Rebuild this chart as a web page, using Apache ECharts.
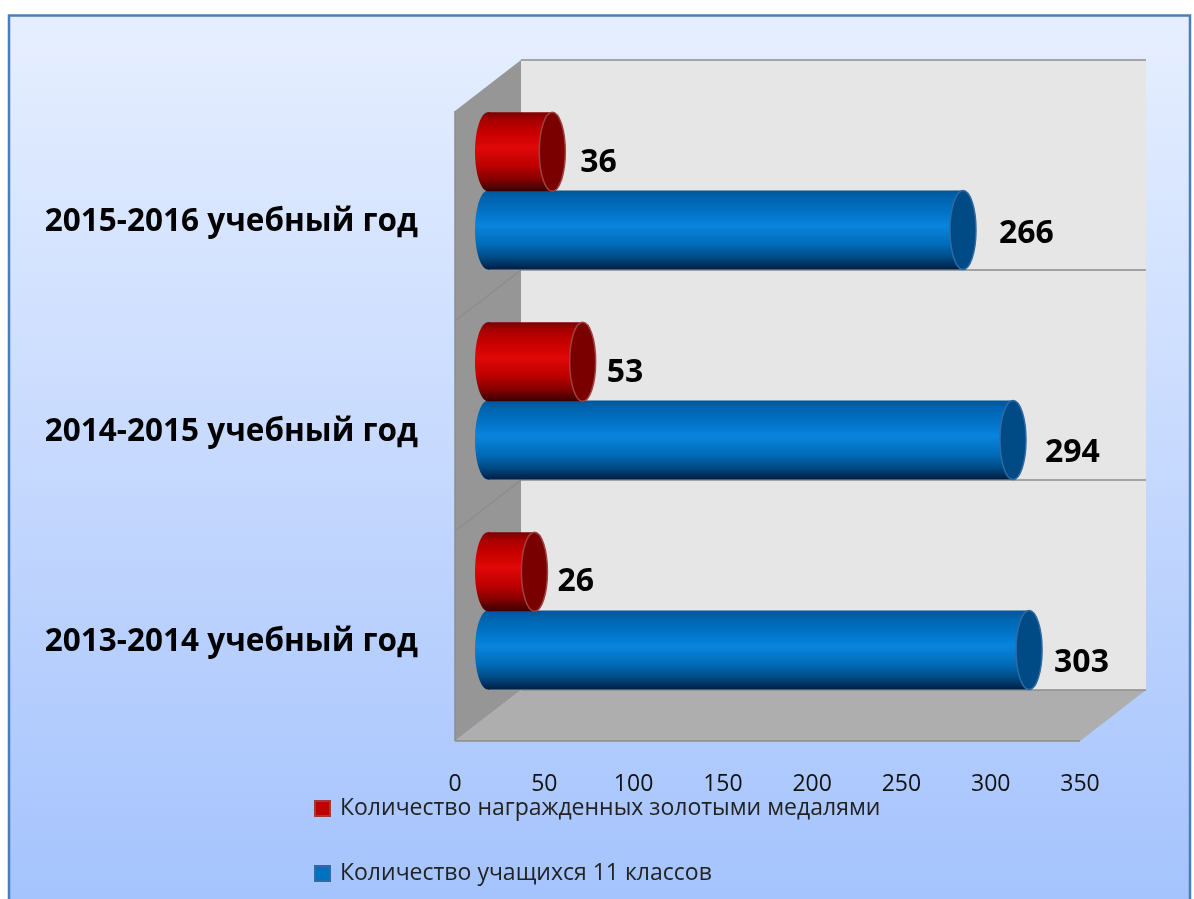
<!DOCTYPE html>
<html><head><meta charset="utf-8">
<style>html,body{margin:0;padding:0;background:#fff;overflow:hidden}#c{width:1194px;height:899px}</style>
<script src="https://cdn.jsdelivr.net/npm/echarts@6/dist/echarts.min.js"></script>
</head><body><div id="c"></div>
<script>
const categories = ['2013-2014 учебный год','2014-2015 учебный год','2015-2016 учебный год'];
const students = [303,294,266];
const medalists = [26,53,36];
const studentsName = 'Количество учащихся 11 классов';
const medalistsName = 'Количество награжденных золотыми медалями';
const xTicks = {min:0,max:350,interval:50};

// layout of the pseudo-3D box
const DEPTH = [66,-51];
const BAR_H = 79, CAP_RX = 13;
const studentNudge = [[1,2],[8,2],[12,-7]];
const medalNudge = [[-1,-1],[0,0],[4,0]];
const FONT = '"Open Sans","Noto Sans",sans-serif';

function grad(stops){return {type:'linear',x:0,y:0,x2:0,y2:1,colorStops:stops.map(s=>({offset:s[0],color:s[1]}))};}
const redGrad = grad([[0,'#7a0000'],[0.1,'#a80000'],[0.28,'#cc0000'],[0.45,'#e00808'],[0.68,'#bc0000'],[0.85,'#840000'],[1,'#380000']]);
const blueGrad = grad([[0,'#00559a'],[0.1,'#0064ae'],[0.28,'#0074c8'],[0.45,'#0a84de'],[0.68,'#006cb8'],[0.85,'#004a85'],[1,'#001f45']]);

function cylinder(opts){
  return function(params,api){
    const x = api.value(0), c = api.value(1);
    const p0 = api.coord([0,c]), p1 = api.coord([x,c]);
    const cy = p0[1] + DEPTH[1]/2 + opts.side*BAR_H/2;
    const x0 = p0[0]+DEPTH[0]/2, x1 = p1[0]+DEPTH[0]/2;
    const ry = BAR_H/2;
    const n = opts.nudge[params.dataIndex];
    return {type:'group',children:[
      {type:'ellipse',shape:{cx:x0,cy:cy,rx:CAP_RX,ry:ry},style:{fill:opts.fill}},
      {type:'rect',shape:{x:x0,y:cy-ry,width:x1-x0,height:BAR_H},style:{fill:opts.fill}},
      {type:'ellipse',shape:{cx:x1,cy:cy,rx:CAP_RX,ry:ry},style:{fill:opts.cap,stroke:opts.capStroke,lineWidth:1.5}},
      {type:'text',x:x1+24+n[0],y:cy+11+n[1],style:{text:String(x),fill:'#000',font:'bold 32px '+FONT,textAlign:'left',textVerticalAlign:'middle'}}
    ]};
  };
}

function walls(params,api){
  const s = params.coordSys, L=s.x, T=s.y, W=s.width, H=s.height, dx=DEPTH[0], dy=DEPTH[1];
  const edge={stroke:'#8c8c8c',lineWidth:1.5};
  const kids=[
    {type:'polygon',shape:{points:[[L+dx,T+dy],[L+W+dx,T+dy],[L+W+dx,T+H+dy],[L+dx,T+H+dy]]},style:{fill:'#e6e6e6'}},
    {type:'polygon',shape:{points:[[L,T],[L+dx,T+dy],[L+dx,T+H+dy],[L,T+H]]},style:{fill:'#969696'}},
    {type:'polygon',shape:{points:[[L,T+H],[L+dx,T+H+dy],[L+W+dx,T+H+dy],[L+W,T+H]]},style:{fill:'#aeaeae'}},
    {type:'line',shape:{x1:L+dx,y1:T+dy,x2:L+W+dx,y2:T+dy},style:edge},
    {type:'line',shape:{x1:L,y1:T+H,x2:L+W,y2:T+H},style:edge},
    {type:'line',shape:{x1:L,y1:T,x2:L,y2:T+H},style:edge}
  ];
  for(let i=1;i<=categories.length;i++){
    const y=T+i*H/categories.length;
    if(i<categories.length) kids.push({type:'line',shape:{x1:L,y1:y,x2:L+dx,y2:y+dy},style:edge});
    kids.push({type:'line',shape:{x1:L+dx,y1:y+dy,x2:L+W+dx,y2:y+dy},style:edge});
  }
  return {type:'group',silent:true,children:kids};
}

const chart = echarts.init(document.getElementById('c'),null,{renderer:'canvas'});
chart.setOption({
  animation:false,
  backgroundColor:'#ffffff',
  graphic:[{type:'rect',z:-10,shape:{x:9,y:15.5,width:1181,height:900},
    style:{fill:{type:'linear',x:0,y:0,x2:0,y2:1,colorStops:[{offset:0,color:'#e6efff'},{offset:0.5,color:'#c6d9fe'},{offset:1,color:'#a3c2fd'}]},stroke:'#4a7ebb',lineWidth:2.5}}],
  grid:{left:455,top:111,width:625,height:630,containLabel:false},
  xAxis:{type:'value',min:xTicks.min,max:xTicks.max,interval:xTicks.interval,
    axisLine:{show:false},axisTick:{show:false},splitLine:{show:false},
    axisLabel:{color:'#111',fontFamily:FONT,fontSize:23,margin:32,hideOverlap:false}},
  yAxis:{type:'category',data:categories,
    axisLine:{show:false},axisTick:{show:false},splitLine:{show:false},
    axisLabel:{color:'#000',fontFamily:FONT,fontWeight:'bold',fontSize:31.5,margin:37,verticalAlign:'top',lineHeight:12}},
  legend:{left:314,top:797,padding:0,orient:'vertical',itemGap:42,itemWidth:15,itemHeight:15,icon:'rect',
    data:[medalistsName,studentsName],
    textStyle:{color:'#222',fontFamily:FONT,fontSize:23,padding:[0,0,0,5]}},
  series:[
    {type:'custom',name:'walls',renderItem:walls,data:[[0,0]],clip:false,silent:true,z:1,encode:{x:0,y:1}},
    {type:'custom',name:studentsName,clip:false,z:2,encode:{x:0,y:1},
      itemStyle:{color:'#0070c0',borderColor:'#2f6aa5',borderWidth:1.5},
      renderItem:cylinder({side:1,fill:blueGrad,cap:'#004a85',capStroke:'#2f6aa5',nudge:studentNudge}),
      data:students.map((v,i)=>[v,i])},
    {type:'custom',name:medalistsName,clip:false,z:3,encode:{x:0,y:1},
      itemStyle:{color:'#c00000',borderColor:'#a03a3a',borderWidth:1.5},
      renderItem:cylinder({side:-0.98,fill:redGrad,cap:'#7a0000',capStroke:'#a04040',nudge:medalNudge}),
      data:medalists.map((v,i)=>[v,i])}
  ]
});
</script></body></html>
